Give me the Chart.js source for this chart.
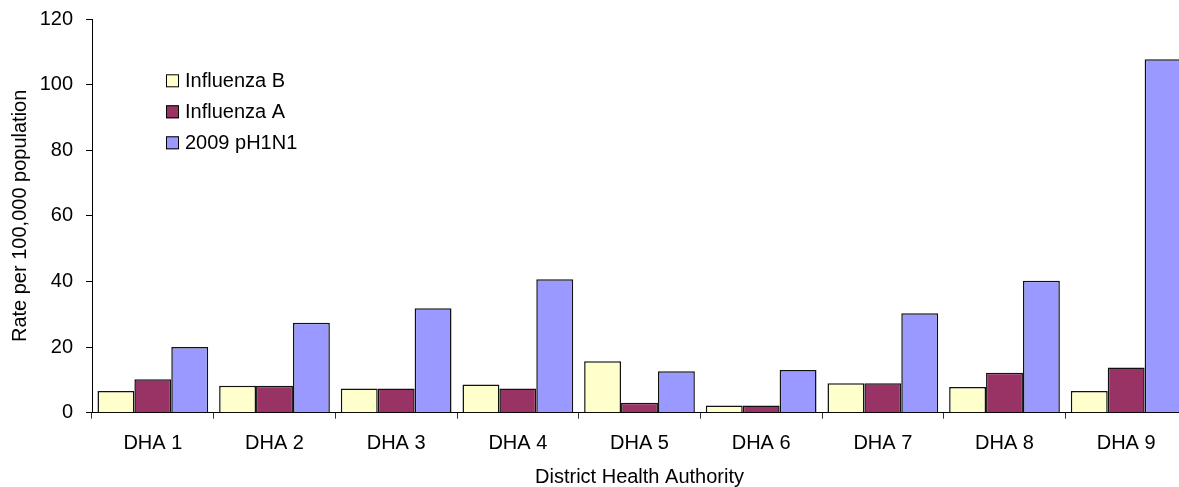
<!DOCTYPE html>
<html>
<head>
<meta charset="utf-8">
<title>Influenza rate by District Health Authority</title>
<script src="https://cdn.jsdelivr.net/npm/chart.js@4/dist/chart.umd.min.js"></script>
<style>
  html, body { margin: 0; padding: 0; background: #ffffff; overflow: hidden; }
  #wrap { width: 1179px; height: 487px; overflow: hidden; }
  canvas { display: block; }
</style>
</head>
<body>
<div id="wrap"><canvas id="chart" width="1187" height="487"></canvas></div>
<script>
// Districts along the x axis
const categories = ['DHA 1', 'DHA 2', 'DHA 3', 'DHA 4', 'DHA 5', 'DHA 6', 'DHA 7', 'DHA 8', 'DHA 9'];

// Rates per 100,000 population
const influenzaB = [6.6, 8.2, 7.4, 8.6, 15.7, 2.2, 9.0, 7.8, 6.6];
const influenzaA = [10.2, 8.2, 7.4, 7.4, 3.0, 2.2, 9.0, 12.2, 13.8];
const pandemicH1N1 = [20.0, 27.4, 31.8, 40.7, 12.6, 13.0, 30.3, 40.2, 107.7];

const seriesLabels = ['Influenza B', 'Influenza A', '2009 pH1N1'];
const seriesColors = ['#FFFFCC', '#993366', '#9999FF'];

// Y axis tick values
const yTickValues = [0, 20, 40, 60, 80, 100, 120];

const FONT = "'Liberation Sans', Arial, sans-serif";

// Legend drawn inside the plot area, top-left
const insetLegend = {
  id: 'insetLegend',
  afterDraw(chart) {
    const ctx = chart.ctx;
    const x0 = 166, y0 = 80.8, step = 31, box = 13;
    ctx.save();
    ctx.font = '20px ' + FONT;
    ctx.textBaseline = 'middle';
    ctx.textAlign = 'left';
    chart.data.datasets.forEach((ds, i) => {
      const cy = y0 + i * step;
      ctx.fillStyle = ds.backgroundColor;
      ctx.fillRect(x0, cy - box / 2, box, box);
      ctx.lineWidth = 1;
      ctx.strokeStyle = '#000000';
      ctx.strokeRect(x0 + 0.5, cy - box / 2 + 0.5, box - 1, box - 1);
      ctx.fillStyle = '#000000';
      ctx.fillText(ds.label, 185, cy + 1);
    });
    ctx.restore();
  }
};

const datasets = [influenzaB, influenzaA, pandemicH1N1].map((values, i) => ({
  label: seriesLabels[i],
  data: values,
  backgroundColor: seriesColors[i],
  borderColor: '#111111',
  borderWidth: 1.5,
  borderSkipped: 'bottom',
  categoryPercentage: 0.91,
  barPercentage: 1.0
}));

new Chart(document.getElementById('chart'), {
  type: 'bar',
  data: { labels: categories, datasets: datasets },
  options: {
    responsive: false,
    animation: false,
    devicePixelRatio: 1,
    layout: { padding: { top: 19, right: 0, bottom: 0, left: 0 } },
    plugins: {
      legend: { display: false },
      tooltip: { enabled: false }
    },
    scales: {
      x: {
        offset: true,
        grid: {
          offset: true,
          drawOnChartArea: false,
          drawTicks: true,
          tickLength: 6,
          color: '#333333'
        },
        border: { display: true, color: '#000000', width: 1 },
        ticks: {
          color: '#000000',
          font: { family: FONT, size: 20 },
          padding: 13,
          maxRotation: 0,
          autoSkip: false
        },
        title: {
          display: true,
          text: 'District Health Authority',
          color: '#000000',
          font: { family: FONT, size: 20, lineHeight: 1 },
          padding: { top: 0, bottom: 0 }
        },
        afterFit(scale) {
          scale.height = 74.3;
          scale.paddingLeft = 0;
          scale.paddingRight = 0;
        }
      },
      y: {
        min: 0,
        max: 120,
        afterBuildTicks(scale) { scale.ticks = yTickValues.map(v => ({ value: v })); },
        grid: {
          drawOnChartArea: false,
          drawTicks: true,
          tickLength: 6,
          color: '#000000'
        },
        border: { display: true, color: '#000000', width: 1 },
        ticks: {
          color: '#000000',
          font: { family: FONT, size: 20 },
          padding: 13
        },
        title: {
          display: true,
          text: 'Rate per 100,000 population',
          color: '#000000',
          font: { family: FONT, size: 20, lineHeight: 1 },
          padding: { top: 10, bottom: 0 }
        },
        afterFit(scale) {
          scale.width = 92;
          scale.paddingTop = 0;
          scale.paddingBottom = 0;
        }
      }
    }
  },
  plugins: [insetLegend]
});
</script>
</body>
</html>
